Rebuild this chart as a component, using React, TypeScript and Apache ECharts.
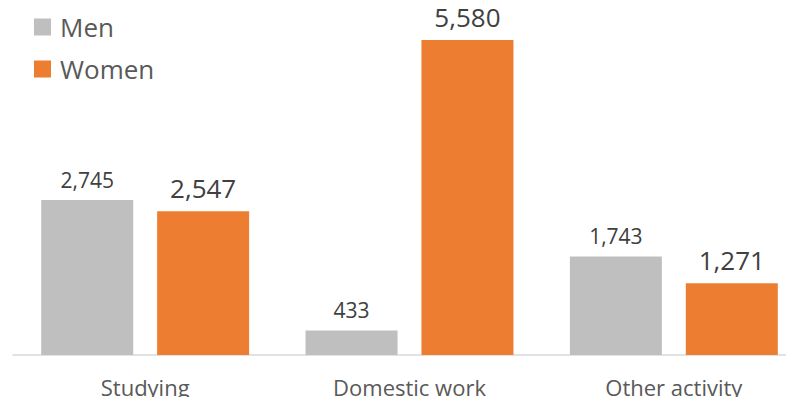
import React, { useEffect, useRef } from "react";
import * as echarts from "echarts";

const categories = ["Studying", "Domestic work", "Other activity"];
const menValues = [2745, 433, 1743];
const womenValues = [2547, 5580, 1271];

const fmt = (v: number) => v.toLocaleString("en-US");

export default function App() {
  const ref = useRef<HTMLDivElement>(null);
  useEffect(() => {
    const chart = echarts.init(ref.current!, null, { renderer: "svg" });
    chart.setOption({
      animation: false,
      textStyle: { fontFamily: "Open Sans" },
      legend: {
        orient: "vertical",
        left: 29,
        top: 9,
        itemWidth: 17,
        itemHeight: 17,
        itemGap: 16,
        icon: "rect",
        textStyle: { fontSize: 26, color: "#595959", fontFamily: "Open Sans", padding: [0, 0, 0, 4] },
        data: ["Men", "Women"],
      },
      grid: { left: 13, width: 793, top: 5, height: 350, outerBoundsMode: "none", containLabel: false },
      xAxis: {
        type: "category",
        data: categories,
        axisLine: { lineStyle: { color: "#D9D9D9", width: 1.5 } },
        axisTick: { show: false },
        axisLabel: { fontSize: 22, color: "#595959", margin: 20, lineHeight: 24, fontFamily: "Open Sans" },
      },
      yAxis: {
        type: "value",
        min: 0,
        max: 6200,
        show: false,
        splitLine: { show: false },
      },
      series: [
        {
          name: "Men",
          type: "bar",
          data: menValues,
          barWidth: 92,
          barGap: "26%",
          itemStyle: { color: "#BFBFBF" },
          label: {
            show: true,
            position: "top",
            distance: 10,
            fontSize: 21,
            color: "#404040",
            fontFamily: "Open Sans",
            formatter: (p: any) => fmt(p.value),
          },
        },
        {
          name: "Women",
          type: "bar",
          data: womenValues,
          barWidth: 92,
          itemStyle: { color: "#ED7D31" },
          label: {
            show: true,
            position: "top",
            distance: 10,
            fontSize: 26,
            color: "#404040",
            fontFamily: "Open Sans",
            formatter: (p: any) => fmt(p.value),
          },
        },
      ],
    });
    return () => chart.dispose();
  }, []);
  return <div ref={ref} style={{ width: 794, height: 405, margin: -8 }} />;
}
